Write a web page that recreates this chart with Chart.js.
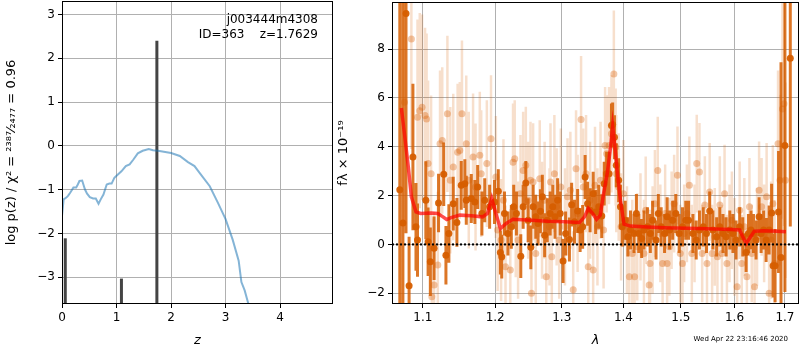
<!DOCTYPE html>
<html>
<head>
<meta charset="utf-8">
<script src="https://cdn.jsdelivr.net/npm/chart.js@4.4.0/dist/chart.umd.min.js"></script>
<style>
body { margin:0; width:800px; height:350px; background:#fff; overflow:hidden; position:relative; font-family:'DejaVu Sans', sans-serif; }
#left { position:absolute; left:0; top:0; }
#right { position:absolute; left:336px; top:-2px; }
.lbl { position:absolute; font-size:12px; color:#000; white-space:pre; text-align:right; line-height:14px; }
#stamp { position:absolute; right:12px; top:335px; font-size:7px; color:#000; white-space:pre; }
</style>
</head>
<body>
<canvas id="left" width="336" height="350"></canvas>
<canvas id="right" width="467" height="352"></canvas>
<div class="lbl" style="right:482px;top:12px">j003444m4308</div>
<div class="lbl" style="right:482px;top:27px">ID=363    z=1.7629</div>
<div id="stamp">Wed Apr 22 23:16:46 2020</div>
<script>
// left panel: log p(z)
const pzZ = [0.00, 0.03, 0.08, 0.11, 0.15, 0.19, 0.21, 0.26, 0.29, 0.32, 0.37, 0.42, 0.46, 0.51, 0.57, 0.62, 0.67, 0.71, 0.76, 0.82, 0.87, 0.91, 0.96, 1.01, 1.09, 1.17, 1.24, 1.31, 1.39, 1.48, 1.59, 1.67, 1.76, 2.00, 2.16, 2.31, 2.43, 2.52, 2.71, 2.86, 3.00, 3.13, 3.24, 3.29, 3.35, 3.41, 3.50];
const pzLog = [-1.60, -1.22, -1.18, -1.14, -1.07, -0.99, -0.95, -0.95, -0.88, -0.80, -0.79, -0.99, -1.09, -1.17, -1.20, -1.20, -1.32, -1.22, -1.11, -0.88, -0.86, -0.86, -0.73, -0.67, -0.58, -0.46, -0.42, -0.31, -0.17, -0.11, -0.07, -0.10, -0.11, -0.16, -0.23, -0.37, -0.46, -0.61, -0.92, -1.30, -1.67, -2.14, -2.62, -3.11, -3.30, -3.57, -4.00];
const peakZ = [0.06, 1.09, 1.74];
const peakTop = [-2.11, -3.03, 2.40];
const zTicks = [0, 1, 2, 3, 4];
const logpTicks = [-3, -2, -1, 0, 1, 2, 3];
const zMin = 0, zMax = 4.97, logpMin = -3.61, logpMax = 3.31;

// right panel: spectrum
const darkLam = [1.070, 1.074, 1.078, 1.082, 1.087, 1.091, 1.093, 1.104, 1.107, 1.110, 1.115, 1.121, 1.128, 1.131, 1.135, 1.141, 1.146, 1.152, 1.157, 1.159, 1.166, 1.171, 1.175, 1.181, 1.185, 1.192, 1.199, 1.2045, 1.2075, 1.2095, 1.2135, 1.2185, 1.2235, 1.227, 1.231, 1.2375, 1.241, 1.245, 1.2485, 1.2525, 1.256, 1.260, 1.2635, 1.267, 1.270, 1.2735, 1.2775, 1.282, 1.286, 1.2895, 1.2935, 1.2975, 1.302, 1.306, 1.312, 1.3155, 1.320, 1.325, 1.329, 1.333, 1.337, 1.341, 1.345, 1.350, 1.354, 1.359, 1.364, 1.368, 1.372, 1.376, 1.380, 1.382, 1.385, 1.388, 1.392, 1.395, 1.398, 1.403, 1.4075, 1.412, 1.418, 1.422, 1.426, 1.431, 1.435, 1.441, 1.446, 1.450, 1.456, 1.460, 1.465, 1.471, 1.4755, 1.480, 1.4855, 1.491, 1.497, 1.503, 1.509, 1.514, 1.522, 1.528, 1.534, 1.541, 1.547, 1.553, 1.559, 1.566, 1.572, 1.578, 1.584, 1.591, 1.597, 1.603, 1.610, 1.616, 1.6225, 1.627, 1.632, 1.637, 1.642, 1.648, 1.652, 1.657, 1.662, 1.668, 1.673, 1.676, 1.680, 1.687, 1.692, 1.700, 1.711];
const darkFlux = [2.24, 0.88, 9.46, -1.69, 3.58, 0.72, 0.18, 1.81, 0.11, -0.71, -0.16, 1.70, 2.87, -0.44, 0.45, 1.67, 0.90, 2.42, 2.49, 1.81, 1.88, 1.74, 2.35, 1.27, 1.81, 1.54, 1.74, 2.18, -0.33, -0.50, 1.27, 0.45, 0.72, 1.54, 1.27, -0.48, 1.54, 2.52, 0.99, -0.12, 1.54, 1.13, 0.86, 1.36, 1.95, 0.38, 0.99, 1.27, 1.54, 1.13, 1.81, 1.27, -0.68, 0.45, 0.20, 1.63, 0.93, 1.37, 0.59, 0.72, 2.76, 1.67, 1.40, 2.08, 1.33, 1.54, 1.16, 2.49, 2.90, 2.90, 4.87, 4.91, 4.39, 3.24, 2.63, 1.54, 0.72, 0.99, 0.31, 0.59, 0.45, 1.27, 0.45, 0.24, 0.59, 0.72, 0.45, 0.99, 0.18, 1.27, 0.72, 0.45, 1.13, 0.59, 0.99, 1.27, 0.45, 0.72, 0.99, 0.99, 0.45, 0.18, 0.59, 0.72, 0.45, 1.37, 0.59, 0.31, 0.72, 0.45, 0.31, 0.59, 0.45, 0.18, 0.72, 0.31, -0.33, 0.45, 0.59, 0.45, 0.18, 1.13, 0.45, 0.59, 0.18, 0.59, 1.29, -0.87, -0.87, 1.33, -0.54, 4.05, 7.63];
const darkErr = [10, 10, 9, 2.0, 3.0, 1.8, 1.5, 1.6, 1.4, 1.4, 1.3, 1.2, 1.3, 1.2, 1.2, 1.1, 1.0, 1.0, 1.0, 1.0, 1.0, 0.9, 0.9, 0.9, 0.9, 0.9, 0.9, 0.9, 0.9, 0.9, 0.9, 0.9, 0.9, 0.9, 0.9, 0.9, 0.9, 0.9, 0.9, 0.9, 0.9, 0.9, 0.9, 0.9, 0.9, 0.9, 0.9, 0.9, 0.9, 0.9, 0.9, 0.9, 0.9, 0.9, 0.9, 0.9, 0.9, 0.9, 0.9, 0.9, 0.9, 0.9, 0.9, 0.9, 0.9, 0.9, 0.9, 0.9, 0.9, 0.9, 0.9, 0.9, 0.9, 0.9, 0.9, 0.9, 0.8, 0.8, 0.8, 0.8, 0.8, 0.8, 0.8, 0.8, 0.8, 0.8, 0.8, 0.8, 0.8, 0.8, 0.8, 0.8, 0.8, 0.8, 0.8, 0.8, 0.8, 0.8, 0.8, 0.8, 0.8, 0.8, 0.8, 0.8, 0.8, 0.8, 0.8, 0.8, 0.8, 0.8, 0.8, 0.8, 0.8, 0.8, 0.8, 0.8, 0.8, 0.8, 0.8, 0.8, 0.8, 0.8, 0.8, 0.8, 0.9, 1.0, 1.2, 1.3, 1.5, 2.5, 8, 6, 6.9];

const lightLam = [1.076, 1.085, 1.093, 1.096, 1.099, 1.103, 1.105, 1.107, 1.111, 1.112, 1.115, 1.120, 1.123, 1.126, 1.133, 1.137, 1.141, 1.147, 1.150, 1.153, 1.159, 1.1625, 1.1685, 1.172, 1.178, 1.180, 1.188, 1.194, 1.201, 1.2035, 1.2085, 1.212, 1.215, 1.222, 1.226, 1.2285, 1.230, 1.2335, 1.237, 1.241, 1.245, 1.2485, 1.252, 1.2535, 1.256, 1.260, 1.266, 1.2695, 1.2735, 1.276, 1.281, 1.2825, 1.2845, 1.2885, 1.292, 1.296, 1.2985, 1.305, 1.309, 1.3135, 1.318, 1.3225, 1.325, 1.3305, 1.334, 1.3385, 1.342, 1.345, 1.350, 1.353, 1.357, 1.362, 1.367, 1.3695, 1.372, 1.376, 1.380, 1.384, 1.387, 1.388, 1.392, 1.396, 1.400, 1.406, 1.410, 1.415, 1.419, 1.4235, 1.429, 1.435, 1.438, 1.444, 1.4455, 1.450, 1.454, 1.459, 1.4635, 1.4675, 1.472, 1.4755, 1.4795, 1.4835, 1.488, 1.494, 1.499, 1.503, 1.506, 1.511, 1.5155, 1.520, 1.525, 1.529, 1.534, 1.539, 1.544, 1.548, 1.553, 1.5575, 1.5625, 1.5675, 1.572, 1.576, 1.581, 1.5855, 1.5905, 1.595, 1.600, 1.605, 1.610, 1.614, 1.619, 1.624, 1.629, 1.6335, 1.639, 1.644, 1.648, 1.653, 1.658, 1.663, 1.668, 1.672, 1.6755, 1.679, 1.686, 1.690, 1.695, 1.698, 1.701];
const lightFlux = [5.82, 8.41, 5.21, 5.48, 5.62, 5.28, 5.14, 3.31, 2.90, -2.14, -1.66, -0.84, 4.12, 4.26, 5.35, 2.63, 3.17, 3.78, 3.85, 5.35, 4.12, 2.63, 3.58, 2.35, 3.65, 2.90, 3.31, 4.33, 2.76, 0.59, 0.18, 1.81, -0.91, -1.05, 3.37, 3.51, 1.06, 0.18, 2.08, 3.03, 3.24, 1.81, 2.63, -2.00, 2.56, -0.37, 2.69, 0.99, 1.81, -1.32, 0.72, 2.56, -0.50, 2.90, 1.54, 0.18, 2.35, 0.72, 1.95, 2.22, -1.86, 3.10, 1.27, 5.12, 2.35, 2.90, -0.91, 1.81, -1.05, 2.42, 0.72, 2.63, 0.59, 4.05, 3.71, 4.05, 4.53, 6.98, 3.99, 2.90, 2.35, 0.72, 2.08, 0.18, -1.32, -0.37, -1.32, -0.10, 0.72, -0.37, 1.40, -1.66, -0.78, 0.18, 1.67, 3.03, 0.45, -0.78, 1.27, -0.78, -0.10, 0.99, 1.67, 2.83, -0.37, -0.78, 0.45, 1.27, 2.42, -0.37, 0.45, 3.31, 2.97, -0.37, 1.61, -0.78, 2.15, -0.37, 0.31, -0.50, 1.61, -0.37, 2.08, -0.78, 0.45, 0.99, -0.10, -1.73, 1.40, -0.78, 0.72, -1.32, 1.54, -0.37, -1.73, 0.31, 2.22, 1.54, 0.45, 1.95, -2.00, 0.18, 1.67, -0.78, 4.12, 2.63, 5.55, 5.76, 2.63];
const lightErr = [5.0, 4.5, 4.0, 4.0, 3.8, 3.6, 3.5, 3.4, 3.2, 3.2, 3.0, 3.0, 3.0, 3.0, 3.2, 3.0, 3.0, 2.8, 2.8, 3.0, 2.8, 2.8, 2.6, 2.6, 2.6, 2.6, 2.6, 2.6, 2.5, 2.5, 2.5, 2.5, 2.5, 2.5, 2.4, 2.4, 2.4, 2.4, 2.4, 2.4, 2.4, 2.4, 2.4, 2.4, 2.4, 2.4, 2.4, 2.4, 2.4, 2.4, 2.4, 2.4, 2.4, 2.4, 2.4, 2.4, 2.4, 2.4, 2.4, 2.4, 2.4, 2.4, 2.4, 2.6, 2.4, 2.4, 2.4, 2.4, 2.4, 2.4, 2.4, 2.4, 2.4, 2.4, 2.4, 2.4, 2.4, 2.6, 2.4, 2.4, 2.2, 2.2, 2.2, 2.2, 2.2, 2.2, 2.2, 2.2, 2.2, 2.2, 2.2, 2.2, 2.2, 2.2, 2.2, 2.2, 2.0, 2.0, 2.0, 2.0, 2.0, 2.0, 2.0, 2.0, 2.0, 2.0, 2.0, 2.0, 2.0, 2.0, 2.0, 2.0, 2.0, 2.0, 2.0, 2.0, 2.0, 2.0, 2.0, 2.0, 2.0, 2.0, 2.0, 2.0, 2.0, 2.0, 2.0, 2.0, 2.0, 2.0, 2.0, 2.0, 2.0, 2.0, 2.0, 2.0, 2.0, 2.0, 2.0, 2.2, 2.2, 2.4, 2.4, 2.6, 3.0, 3.5, 4.5, 5.0, 4.0];

const modelLam = [1.072, 1.076, 1.081, 1.085, 1.091, 1.097, 1.111, 1.120, 1.127, 1.132, 1.138, 1.150, 1.166, 1.182, 1.189, 1.195, 1.201, 1.2075, 1.216, 1.226, 1.2535, 1.2785, 1.304, 1.328, 1.336, 1.342, 1.349, 1.3555, 1.3615, 1.367, 1.373, 1.3785, 1.382, 1.385, 1.390, 1.395, 1.401, 1.412, 1.441, 1.471, 1.531, 1.563, 1.594, 1.610, 1.616, 1.6225, 1.629, 1.6385, 1.658, 1.684, 1.702];
const modelFlux = [5.59, 4.53, 3.17, 1.95, 1.33, 1.27, 1.29, 1.27, 1.13, 1.02, 1.10, 1.20, 1.17, 1.13, 1.27, 1.88, 1.27, 0.65, 0.86, 1.03, 0.99, 0.95, 0.93, 0.90, 1.13, 1.47, 1.27, 1.03, 1.20, 2.08, 2.90, 3.99, 4.85, 4.19, 2.90, 1.81, 0.83, 0.75, 0.71, 0.68, 0.65, 0.63, 0.61, 0.59, 0.31, 0.04, 0.24, 0.54, 0.56, 0.54, 0.52];

const lamTicks = [1.1, 1.2, 1.3, 1.4, 1.5, 1.6, 1.7];
const fluxTicks = [-2, 0, 2, 4, 6, 8];
const lamMin = 1.06, lamMax = 1.729, fluxMin = -2.44, fluxMax = 9.93;

const FONT = 'DejaVu Sans';
const gridColor = '#b0b0b0';

const frame = {
    id: 'frame',
    afterDraw(chart) {
        const a = chart.chartArea;
        const ctx = chart.ctx;
        ctx.save();
        ctx.strokeStyle = '#000';
        ctx.lineWidth = 1;
        ctx.strokeRect(Math.round(a.left) + 0.5, Math.round(a.top) + 0.5, Math.round(a.right - a.left) - 1, Math.round(a.bottom - a.top) - 1);
        ctx.restore();
    }
};

const minus = v => (v < 0 ? '\u2212' + Math.abs(v) : '' + v);

const axisStyle = (extra) => Object.assign({
    grid: { color: gridColor, lineWidth: 1, tickColor: '#000', tickLength: 4 },
    border: { display: false },
}, extra);

// fixed axis box sizes, no extra room for overhanging labels
const fixX = h => s => { s.height = h; s.paddingLeft = 0; s.paddingRight = 0; };
const fixY = w => s => { s.width = w; s.paddingTop = 0; s.paddingBottom = 0; };

const errSegments = (lam, flux, err) => {
    const out = [];
    lam.forEach((l, i) => {
        out.push({ x: l, y: flux[i] - err[i] }, { x: l, y: flux[i] + err[i] }, { x: l, y: null });
    });
    return out;
};

const pairs = (xs, ys) => xs.map((x, i) => ({ x: x, y: ys[i] }));

// left chart
const peakSets = peakZ.map((z, i) => ({
    data: [{ x: z, y: logpMin - 1 }, { x: z, y: peakTop[i] }],
    showLine: true,
    borderColor: '#444',
    borderWidth: 3,
    pointRadius: 0,
    order: 1,
}));

new Chart(document.getElementById('left'), {
    type: 'scatter',
    data: {
        datasets: [
            {
                data: pairs(pzZ, pzLog),
                showLine: true,
                borderColor: 'rgba(31,119,180,0.55)',
                borderWidth: 2,
                pointRadius: 0,
                order: 0,
            },
            ...peakSets
        ]
    },
    options: {
        responsive: false,
        animation: false,
        devicePixelRatio: 1,
        layout: { padding: { top: 1, right: 3, left: 0, bottom: 0 } },
        plugins: { legend: { display: false }, tooltip: { enabled: false } },
        scales: {
            x: axisStyle({
                type: 'linear', min: zMin, max: zMax,
                afterBuildTicks: a => { a.ticks = zTicks.map(v => ({ value: v })); },
                afterFit: fixX(46),
                ticks: { color: '#000', font: { size: 12, family: FONT }, padding: 3, maxRotation: 0, autoSkip: false, callback: minus },
                title: { display: true, text: 'z', color: '#000', font: { size: 13, family: FONT, style: 'italic' }, padding: { top: 0, bottom: 2 } },
            }),
            y: axisStyle({
                type: 'linear', min: logpMin, max: logpMax,
                afterBuildTicks: a => { a.ticks = logpTicks.map(v => ({ value: v })); },
                afterFit: fixY(62),
                ticks: { color: '#000', font: { size: 12, family: FONT }, padding: 3, autoSkip: false, callback: minus },
                title: { display: true, text: 'log p(z) / \u03c7\u00b2 = \u00b2\u00b3\u2078\u2077\u2044\u2082\u2084\u2087\u2087 = 0.96', color: '#000', font: { size: 13, family: FONT }, padding: { top: 4, bottom: 0 } },
            }),
        }
    },
    plugins: [frame]
});

// right chart
new Chart(document.getElementById('right'), {
    type: 'scatter',
    data: {
        datasets: [
            {
                data: [{ x: lamMin, y: 0 }, { x: lamMax, y: 0 }],
                showLine: true,
                borderColor: '#000',
                borderWidth: 2,
                borderDash: [2, 2],
                pointRadius: 0,
                order: 0,
            },
            {
                data: pairs(modelLam, modelFlux),
                showLine: true,
                borderColor: 'rgba(255,0,0,0.7)',
                borderWidth: 3.5,
                pointRadius: 0,
                order: 1,
            },
            {
                data: pairs(darkLam, darkFlux),
                pointRadius: 3.5,
                pointBorderWidth: 0,
                backgroundColor: 'rgba(214,94,0,0.95)',
                borderColor: 'rgba(0,0,0,0)',
                order: 2,
            },
            {
                data: errSegments(darkLam, darkFlux, darkErr),
                showLine: true,
                spanGaps: false,
                borderColor: 'rgba(214,94,0,0.85)',
                borderWidth: 3,
                borderCapStyle: 'butt',
                pointRadius: 0,
                order: 3,
            },
            {
                data: pairs(lightLam, lightFlux),
                pointRadius: 3.5,
                pointBorderWidth: 0,
                backgroundColor: 'rgba(217,95,2,0.35)',
                borderColor: 'rgba(0,0,0,0)',
                order: 4,
            },
            {
                data: errSegments(lightLam, lightFlux, lightErr),
                showLine: true,
                spanGaps: false,
                borderColor: 'rgba(217,95,2,0.2)',
                borderWidth: 2.5,
                borderCapStyle: 'butt',
                pointRadius: 0,
                order: 5,
            },
        ]
    },
    options: {
        responsive: false,
        animation: false,
        devicePixelRatio: 1,
        layout: { padding: { top: 0, right: 0, left: 0, bottom: 0 } },
        plugins: { legend: { display: false }, tooltip: { enabled: false } },
        scales: {
            x: axisStyle({
                type: 'logarithmic', min: lamMin, max: lamMax,
                afterBuildTicks: a => { a.ticks = lamTicks.map(v => ({ value: v })); },
                afterFit: fixX(46),
                ticks: { color: '#000', font: { size: 12, family: FONT }, padding: 3, maxRotation: 0, autoSkip: false, callback: v => Number(v).toFixed(1) },
                title: { display: true, text: '\u03bb', color: '#000', font: { size: 13, family: FONT, style: 'italic' }, padding: { top: 0, bottom: 2 } },
            }),
            y: axisStyle({
                type: 'linear', min: fluxMin, max: fluxMax,
                afterBuildTicks: a => { a.ticks = fluxTicks.map(v => ({ value: v })); },
                afterFit: fixY(56),
                ticks: { color: '#000', font: { size: 12, family: FONT }, padding: 3, autoSkip: false, callback: minus },
                title: { display: true, text: 'f\u03bb \u00d7 10\u207b\u00b9\u2079', color: '#000', font: { size: 13, family: FONT }, padding: { top: 0, bottom: 0 } },
            }),
        }
    },
    plugins: [frame]
});
</script>
</body>
</html>
